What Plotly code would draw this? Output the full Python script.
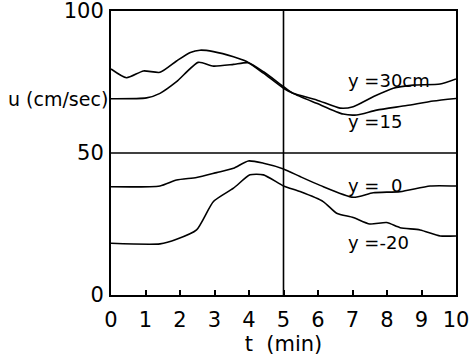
import plotly.graph_objects as go

t30 = [0, 0.45, 0.94, 1.42, 1.9, 2.3, 2.58, 2.97, 3.55, 3.93, 4.42, 5.0, 5.28, 5.96, 6.64, 7.02, 7.6, 8.18, 8.76, 9.54, 10]
u30 = [79.6, 76.5, 78.9, 78.4, 82.4, 85.4, 86.2, 85.7, 83.9, 82.2, 78.1, 72.8, 71.0, 68.7, 65.8, 66.3, 69.8, 72.8, 73.9, 74.3, 76.1]

t15 = [0, 1.03, 1.42, 1.9, 2.53, 2.97, 3.55, 3.98, 4.42, 5.0, 5.28, 5.96, 6.73, 7.12, 7.7, 8.57, 9.34, 10]
u15 = [69.1, 69.4, 71.0, 75.1, 81.9, 80.6, 81.2, 81.8, 78.6, 73.4, 71.0, 67.5, 63.7, 63.4, 65.1, 66.7, 68.3, 69.2]

t0 = [0, 1.42, 1.9, 2.48, 3.06, 3.55, 3.98, 4.42, 5.0, 5.48, 6.06, 7.02, 7.6, 8.38, 9.25, 10]
u0 = [38.1, 38.4, 40.5, 41.4, 43.1, 44.6, 47.2, 46.4, 44.4, 41.7, 38.6, 34.4, 36.0, 36.4, 38.4, 38.4]

tm20 = [0, 1.42, 1.9, 2.48, 2.97, 3.55, 4.03, 4.42, 5.0, 5.48, 6.15, 6.54, 7.02, 7.5, 7.99, 8.38, 8.96, 9.54, 10]
um20 = [18.2, 18.0, 19.6, 22.9, 32.9, 37.6, 42.3, 42.3, 38.4, 36.4, 32.9, 28.8, 27.3, 25.0, 25.5, 23.7, 22.9, 20.8, 20.8]

x_ticks = list(range(0, 11))
x_tick_labels = [str(v) for v in x_ticks]
y_ticks = [0, 50, 100]
y_tick_labels = ["0", "50", "100"]

series = [(t30, u30), (t15, u15), (t0, u0), (tm20, um20)]
labels = [("y =30cm", 6.8, 75.7), ("y =15", 6.8, 61.0), ("y =  0", 6.8, 38.4), ("y =-20", 6.8, 18.4)]

FONT = "DejaVu Sans"
fig = go.Figure()
for tx, uy in series:
    fig.add_trace(go.Scatter(x=tx, y=uy, mode="lines",
                             line=dict(color="black", width=1.6, shape="spline", smoothing=0.6),
                             showlegend=False, hoverinfo="skip"))

for text, lx, ly in labels:
    fig.add_annotation(x=lx, y=ly, text=text, showarrow=False, xanchor="left",
                       font=dict(family=FONT, size=18, color="black"))

fig.add_annotation(xref="paper", x=0, y=69, text="u (cm/sec)", showarrow=False,
                   xanchor="right", xshift=-1, font=dict(family=FONT, size=19, color="black"))

fig.add_hline(y=50, line=dict(color="black", width=1.6))
fig.add_vline(x=5, line=dict(color="black", width=1.6))

fig.update_xaxes(range=[0, 10], tickvals=x_ticks, ticktext=x_tick_labels, ticks="inside",
                 ticklen=5, tickwidth=1.5, tickcolor="black", showgrid=False, zeroline=False,
                 showline=True, linecolor="black", linewidth=2, mirror=True, automargin=False,
                 ticklabeloverflow="allow", ticklabelstandoff=5,
                 tickfont=dict(family=FONT, size=21, color="black"),
                 title=dict(text="t  (min)", font=dict(family=FONT, size=21, color="black"), standoff=4))
fig.update_yaxes(range=[0, 100], tickvals=y_ticks, ticktext=y_tick_labels, ticks="",
                 showgrid=False, zeroline=False, showline=True, linecolor="black", linewidth=2,
                 mirror=True, automargin=False, ticklabelstandoff=1, ticklabeloverflow="allow",
                 tickfont=dict(family=FONT, size=21, color="black"))

fig.update_layout(width=469, height=362, margin=dict(l=111, r=13, t=11, b=67),
                  plot_bgcolor="white", paper_bgcolor="white")
fig.write_html("out.html", config={"displayModeBar": False},
               post_script="document.body.style.margin='0px';")
